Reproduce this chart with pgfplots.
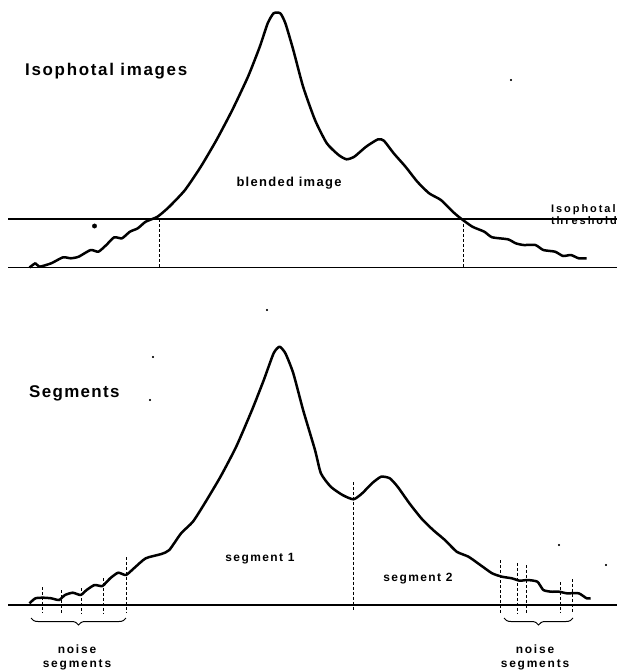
\documentclass[border=0pt]{standalone}
\usepackage{pgfplots}
\pgfplotsset{compat=1.18}
\usepackage{pgfplotstable}
\usepackage{fontspec}
\setmainfont{Liberation Sans}
\usetikzlibrary{decorations.pathreplacing}
\pgfplotstableread{
x h
29.5 0
35.4 4.2
39.4 0.8
51.2 4.2
63.0 10.2
70.9 9.2
78.7 10.8
90.6 17.5
98.4 15.8
106.3 22.5
114.2 30.2
122.0 29.2
129.9 35.8
137.8 39.2
145.7 45.8
157.5 50.8
169.3 60.8
185.0 77.5
200.8 100.8
216.5 127.5
232.3 157.5
248.0 190.8
259.8 220.8
267.7 244.2
273.6 254.2
280.3 254.2
285.4 244.2
293.3 217.5
303.1 180.8
315.0 147.5
326.8 124.2
338.6 112.5
346.5 108.2
354.3 110.8
366.1 120.8
378.0 128.2
383.9 126.8
393.7 114.2
405.5 100.8
417.3 85.8
429.1 74.2
440.9 67.5
452.8 55.8
460.6 49.2
472.4 40.8
484.3 35.8
492.1 30.2
507.9 28.2
515.7 24.2
523.6 22.5
535.4 22.5
543.3 17.5
555.1 15.8
563.0 11.5
570.9 12.5
578.7 9.2
586.6 9.2
}\topcurve
\pgfplotstableread{
x h
29.5 1.7
35.4 6.7
43.3 7.3
51.2 6.7
59.1 5.0
65.0 10.0
72.8 12.3
80.7 10.0
86.6 15.0
94.5 20.0
102.4 19.0
110.2 26.7
118.1 32.3
126.0 30.0
133.9 36.7
145.7 46.7
161.4 51.0
169.3 55.0
181.1 71.7
192.9 83.3
204.7 101.7
220.5 128.3
236.2 158.3
252.0 195.0
263.8 225.0
273.6 251.7
279.5 258.3
285.4 251.7
293.3 231.7
303.1 195.0
315.0 155.0
320.9 131.7
330.7 118.3
342.5 110.0
353.5 105.7
362.2 111.7
372.0 121.7
381.1 128.3
389.8 126.7
397.6 118.3
409.4 101.7
421.3 86.7
433.1 75.0
444.9 65.0
456.7 53.3
468.5 48.3
480.3 40.0
492.1 31.7
502.0 28.3
511.8 26.7
519.7 24.3
527.6 25.0
537.4 23.3
543.3 15.0
551.2 13.3
559.1 13.3
566.9 11.7
578.7 11.7
586.6 6.7
590.6 6.7
}\botcurve
\begin{document}
\begin{tikzpicture}
\begin{axis}[
  x=1bp, y=1bp, y dir=reverse,
  xmin=0, xmax=617, ymin=0, ymax=672,
  axis lines=none, clip=false,
  every axis plot/.append style={black},
]
\path (axis cs:0,0) rectangle (axis cs:617,672);
% top panel
\addplot[line width=1.8bp] coordinates {(8,267.5) (617,267.5)};
\addplot[line width=1.1bp] coordinates {(8,219) (617,219)};
\addplot[line width=0.9bp, densely dashed] coordinates {(159,219) (159,267.5)};
\addplot[line width=0.9bp, densely dashed] coordinates {(463,219) (463,267.5)};
\addplot[line width=2.5bp, line join=round, smooth, tension=0.35] table[x=x, y expr=267.5-\thisrow{h}] {\topcurve};
\addplot[only marks, mark=*, mark size=2.2bp] coordinates {(94.5,226)};
\addplot[only marks, mark=*, mark size=0.8bp] coordinates {(511,80)};
% bottom panel
\addplot[line width=1.6bp] coordinates {(8,605) (617,605)};
\addplot[line width=2.5bp, line join=round, smooth, tension=0.35] table[x=x, y expr=605-\thisrow{h}] {\botcurve};
\addplot[line width=0.9bp, densely dashed] coordinates {(353.5,482) (353.5,611)};
\addplot[line width=0.9bp, densely dashed] coordinates {(42.1,587) (42.1,613)};
\addplot[line width=0.9bp, densely dashed] coordinates {(61.8,590) (61.8,613)};
\addplot[line width=0.9bp, densely dashed] coordinates {(81.5,588) (81.5,613)};
\addplot[line width=0.9bp, densely dashed] coordinates {(103.1,578) (103.1,613)};
\addplot[line width=0.9bp, densely dashed] coordinates {(126.0,557) (126.0,613)};
\addplot[line width=0.9bp, densely dashed] coordinates {(500.8,560) (500.8,613)};
\addplot[line width=0.9bp, densely dashed] coordinates {(517.7,563) (517.7,613)};
\addplot[line width=0.9bp, densely dashed] coordinates {(526.8,565) (526.8,613)};
\addplot[line width=0.9bp, densely dashed] coordinates {(560.2,582) (560.2,613)};
\addplot[line width=0.9bp, densely dashed] coordinates {(572.0,579) (572.0,613)};
\addplot[only marks, mark=*, mark size=0.8bp] coordinates {(267,310) (153,357) (150,400) (559,545) (606,565)};
\draw[line width=1bp, decorate, decoration={brace, mirror, amplitude=7bp}] (axis cs:31,618) -- (axis cs:126,618);
\draw[line width=1bp, decorate, decoration={brace, mirror, amplitude=7bp}] (axis cs:504,618) -- (axis cs:573,618);
% labels
\node[anchor=west, font=\bfseries\fontsize{17}{17}\selectfont\addfontfeature{LetterSpace=10}, inner sep=0pt] at (axis cs:25,71) {Isophotal images};
\node[font=\bfseries\fontsize{13}{13}\selectfont\addfontfeature{LetterSpace=10}, inner sep=0pt] at (axis cs:289,183) {blended image};
\node[anchor=east, align=left, font=\bfseries\fontsize{11}{12}\selectfont\addfontfeature{LetterSpace=18}, inner sep=0pt] at (axis cs:617,215) {Isophotal\\threshold};
\node[anchor=west, font=\bfseries\fontsize{17}{17}\selectfont\addfontfeature{LetterSpace=8}, inner sep=0pt] at (axis cs:29,393) {Segments};
\node[font=\bfseries\fontsize{12}{12}\selectfont\addfontfeature{LetterSpace=12}, inner sep=0pt] at (axis cs:260,559) {segment 1};
\node[font=\bfseries\fontsize{12}{12}\selectfont\addfontfeature{LetterSpace=12}, inner sep=0pt] at (axis cs:418,579) {segment 2};
\node[align=center, font=\bfseries\fontsize{12}{14}\selectfont\addfontfeature{LetterSpace=15}, inner sep=0pt] at (axis cs:77,657) {noise\\segments};
\node[align=center, font=\bfseries\fontsize{12}{14}\selectfont\addfontfeature{LetterSpace=15}, inner sep=0pt] at (axis cs:535,657) {noise\\segments};
\end{axis}
\end{tikzpicture}
\end{document}
